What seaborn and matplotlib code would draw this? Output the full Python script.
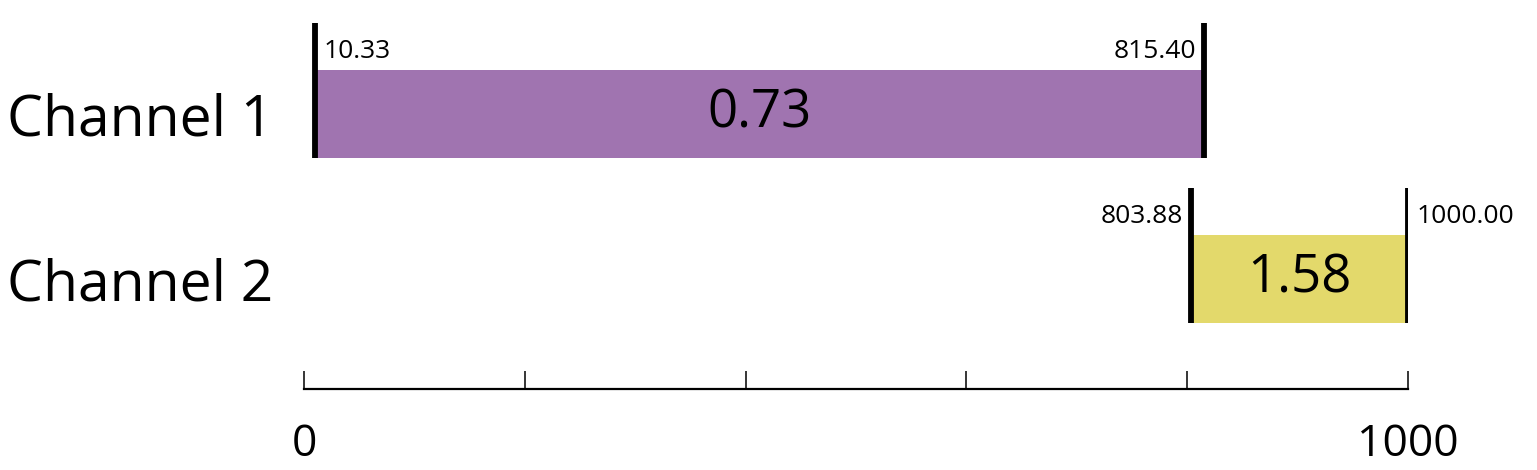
import matplotlib
matplotlib.use("Agg")
import matplotlib.pyplot as plt
import matplotlib.transforms as mtransforms
import seaborn as sns
import pandas as pd

channels = ["Channel 1", "Channel 2"]
starts = [10.33, 803.88]
ends = [815.40, 1000.00]
values = [0.73, 1.58]
colors = ["#a074b0", "#e3d96b"]
xticks = [0, 200, 400, 600, 800, 1000]
xticklabels = ["0", "", "", "", "", "1000"]

sns.set_theme(style="white")
plt.rcParams["font.family"] = ["Open Sans", "DejaVu Sans"]
plt.rcParams["text.color"] = "black"
plt.rcParams["xtick.color"] = "black"
plt.rcParams["ytick.color"] = "black"
plt.rcParams["xtick.labelcolor"] = "black"
plt.rcParams["ytick.labelcolor"] = "black"

fig = plt.figure(figsize=(15.37, 4.70), dpi=100)
ax = fig.add_axes([304 / 1537, (470 - 389) / 470, (1408 - 304) / 1537, (389 - 15) / 470])

bar_h = 0.533
for i, ch in enumerate(channels):
    df = pd.DataFrame({"channel": [ch], "width": [ends[i] - starts[i]]})
    sns.barplot(data=df, x="width", y="channel", order=channels, left=starts[i],
                color=colors[i], width=bar_h, saturation=1, ax=ax, linewidth=0)

ext = 0.285
small = 19
for i in range(len(channels)):
    top = i - bar_h / 2
    bot = i + bar_h / 2
    ax.vlines([starts[i], ends[i]], top - ext, bot, colors="black", linewidth=4.2, zorder=3)
    mid = (starts[i] + ends[i]) / 2
    ax.text(mid, i, f"{values[i]:.2f}", ha="center", va="center", fontsize=38, color="black")
    ylab = top - ext / 2 + 0.03
    if i == 0:
        ax.annotate(f"{starts[i]:.2f}", (starts[i], ylab), xytext=(6, 0), textcoords="offset points",
                    ha="left", va="center", fontsize=small, color="black")
        ax.annotate(f"{ends[i]:.2f}", (ends[i], ylab), xytext=(-6, 0), textcoords="offset points",
                    ha="right", va="center", fontsize=small, color="black")
    else:
        ax.annotate(f"{starts[i]:.2f}", (starts[i], ylab), xytext=(-6, 0), textcoords="offset points",
                    ha="right", va="center", fontsize=small, color="black")
        ax.annotate(f"{ends[i]:.2f}", (ends[i], ylab), xytext=(6, 0), textcoords="offset points",
                    ha="left", va="center", fontsize=small, color="black")

ax.set_xlim(0, 1000)
ax.set_ylim(1.667, -0.6)
ax.set_xticks(xticks)
ax.set_xticklabels(xticklabels, fontsize=32, color="black")
ax.set_yticks(range(len(channels)))
ax.set_yticklabels(channels, fontsize=41, color="black")
shift = mtransforms.ScaledTranslation(0, 0.08, fig.dpi_scale_trans)
for lab in ax.get_yticklabels():
    lab.set_transform(lab.get_transform() + shift)
ax.set_xlabel("")
ax.set_ylabel("")
ax.tick_params(axis="x", direction="in", length=13, width=1.1, color="black", pad=24, bottom=True)
ax.tick_params(axis="y", length=0, pad=22)
for s in ["top", "right", "left"]:
    ax.spines[s].set_visible(False)
ax.spines["bottom"].set_linewidth(1.6)
ax.spines["bottom"].set_color("black")
ax.spines["bottom"].set_bounds(0, 1000)
ax.patch.set_alpha(0)

fig.savefig("out.png", dpi=100)
